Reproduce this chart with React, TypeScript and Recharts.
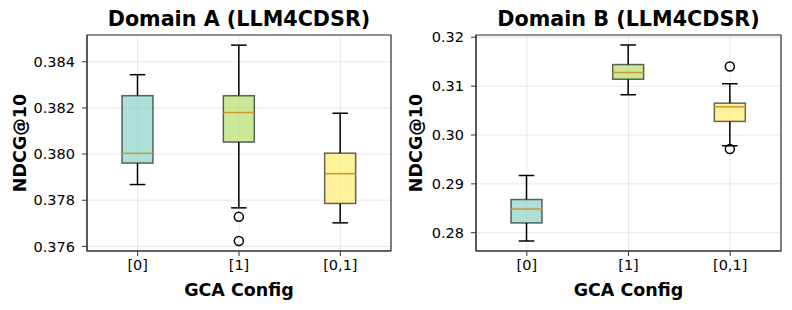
import React from 'react';
import { ComposedChart, Bar, XAxis, YAxis, CartesianGrid, ReferenceArea } from 'recharts';

// GCA configs on the x axis
const categories = ['[0]', '[1]', '[0,1]'];
const boxColors = ['#8dd3c7', '#b3de69', '#ffed6f'];

// Domain A box stats
const aWhiskerLow = [0.37868, 0.37767, 0.37702];
const aQ1 = [0.37961, 0.38052, 0.37786];
const aMedian = [0.38003, 0.3818, 0.37915];
const aQ3 = [0.38253, 0.38253, 0.38004];
const aWhiskerHigh = [0.38344, 0.38472, 0.38177];
const aOutliers = [[], [0.37728, 0.37623], []];
const aTicks = [0.376, 0.378, 0.38, 0.382, 0.384];
const aDomain = [0.3758, 0.38516];

// Domain B box stats
const bWhiskerLow = [0.2783, 0.30822, 0.29781];
const bQ1 = [0.28199, 0.31141, 0.30278];
const bMedian = [0.28487, 0.31278, 0.30576];
const bQ3 = [0.28679, 0.31442, 0.30652];
const bWhiskerHigh = [0.2917, 0.31842, 0.31047];
const bOutliers = [[], [], [0.31401, 0.29713]];
const bTicks = [0.28, 0.29, 0.3, 0.31, 0.32];
const bDomain = [0.27625, 0.32047];

const FONT = '"DejaVu Sans", sans-serif';

const buildRows = (lo: number[], q1: number[], med: number[], q3: number[], hi: number[], out: number[][]) =>
  categories.map((name, i) => ({
    name,
    range: [lo[i], hi[i]],
    lo: lo[i], q1: q1[i], med: med[i], q3: q3[i], hi: hi[i],
    fliers: out[i],
    color: boxColors[i],
  }));

// draws whiskers, box, median and fliers from the pixel span the bar got for [lo, hi]
const BoxShape = (props: any) => {
  const { x, y, width, height, payload } = props;
  const top = Math.min(y, y + height);
  const h = Math.abs(height);
  const py = (v: number) => top + ((payload.hi - v) / (payload.hi - payload.lo)) * h;
  const cx = x + width / 2;
  const cap = width / 2;
  return (
    <g>
      <line x1={cx} x2={cx} y1={py(payload.hi)} y2={py(payload.q3)} stroke="#000" strokeWidth={1.5} />
      <line x1={cx} x2={cx} y1={py(payload.q1)} y2={py(payload.lo)} stroke="#000" strokeWidth={1.5} />
      <line x1={cx - cap / 2} x2={cx + cap / 2} y1={py(payload.hi)} y2={py(payload.hi)} stroke="#000" strokeWidth={1.5} />
      <line x1={cx - cap / 2} x2={cx + cap / 2} y1={py(payload.lo)} y2={py(payload.lo)} stroke="#000" strokeWidth={1.5} />
      <rect x={x} y={py(payload.q3)} width={width} height={py(payload.q1) - py(payload.q3)}
        fill={payload.color} fillOpacity={0.7} stroke="#000" strokeOpacity={0.6} strokeWidth={1.5} />
      <line x1={x} x2={x + width} y1={py(payload.med)} y2={py(payload.med)} stroke="#c99a2e" strokeWidth={1.5} />
      {payload.fliers.map((v: number, i: number) => (
        <circle key={i} cx={cx} cy={py(v)} r={4.5} fill="none" stroke="#000" strokeWidth={1.5} />
      ))}
    </g>
  );
};

const Panel = ({ left, width, marginLeft, marginRight, rows, ticks, domain, fmt, title }: any) => (
  <div style={{ position: 'absolute', left, top: 0, width, height: 310 }}>
    <ComposedChart width={width} height={310} data={rows}
      margin={{ top: 35, right: marginRight, left: marginLeft, bottom: 29 }}>
      <CartesianGrid stroke="#b0b0b0" strokeOpacity={0.3} />
      <XAxis dataKey="name" type="category" height={30} tickSize={5} tickMargin={4}
        tick={{ fontSize: 14.5, fill: '#000', fontFamily: FONT }} axisLine={{ stroke: '#333' }} tickLine={{ stroke: '#333' }} />
      <YAxis type="number" domain={domain} ticks={ticks} width={60} tickSize={5} tickMargin={7}
        allowDataOverflow tickFormatter={fmt}
        tick={{ fontSize: 14.5, fill: '#000', fontFamily: FONT }} axisLine={{ stroke: '#333' }} tickLine={{ stroke: '#333' }} />
      {/* frame around the plot (top and right spines) */}
      <ReferenceArea y1={domain[0]} y2={domain[1]} fill="none" stroke="#333" strokeWidth={1.2} ifOverflow="visible" />
      <Bar dataKey="range" barSize={31} shape={<BoxShape />} isAnimationActive={false} />
    </ComposedChart>
    <div style={{ position: 'absolute', left: 0, right: 0, top: 6, paddingLeft: marginLeft + 60, paddingRight: marginRight,
      textAlign: 'center', fontFamily: FONT, fontWeight: 'bold', fontSize: 20.7, lineHeight: '26px' }}>{title}</div>
    <div style={{ position: 'absolute', left: 0, right: 0, top: 279, paddingLeft: marginLeft + 60, paddingRight: marginRight,
      textAlign: 'center', fontFamily: FONT, fontWeight: 'bold', fontSize: 17.5, lineHeight: '22px' }}>GCA Config</div>
    <div style={{ position: 'absolute', left: 20 - 100, top: 143 - 11, width: 200, height: 22, transform: 'rotate(-90deg)',
      textAlign: 'center', fontFamily: FONT, fontWeight: 'bold', fontSize: 17.5, lineHeight: '22px' }}>NDCG@10</div>
  </div>
);

export default function App() {
  const rowsA = buildRows(aWhiskerLow, aQ1, aMedian, aQ3, aWhiskerHigh, aOutliers);
  const rowsB = buildRows(bWhiskerLow, bQ1, bMedian, bQ3, bWhiskerHigh, bOutliers);
  return (
    <div style={{ position: 'absolute', left: 0, top: 0, width: 792, height: 310, background: '#fff', overflow: 'hidden' }}>
      <Panel left={0} width={400} marginLeft={27} marginRight={9} rows={rowsA}
        ticks={aTicks} domain={aDomain} fmt={(v: number) => v.toFixed(3)} title="Domain A (LLM4CDSR)" />
      <Panel left={396} width={396} marginLeft={20} marginRight={11} rows={rowsB}
        ticks={bTicks} domain={bDomain} fmt={(v: number) => v.toFixed(2)} title="Domain B (LLM4CDSR)" />
    </div>
  );
}
